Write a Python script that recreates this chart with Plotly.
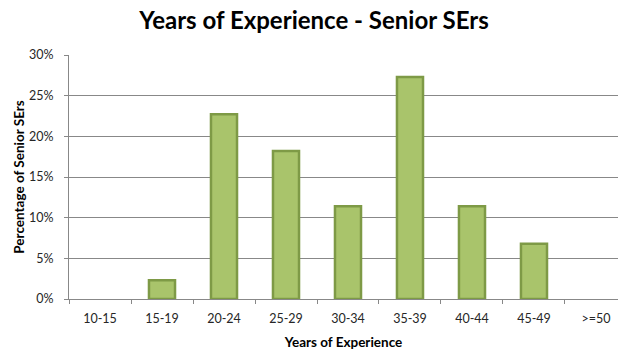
import plotly.graph_objects as go

# Distribution of senior SErs by years of experience
categories = ["10-15", "15-19", "20-24", "25-29", "30-34", "35-39", "40-44", "45-49", ">=50"]
percent_values = [0, 2.3, 22.7, 18.2, 11.4, 27.3, 11.4, 6.8, 0]
y_tick_values = [0, 5, 10, 15, 20, 25, 30]
y_tick_labels = ["0%", "5%", "10%", "15%", "20%", "25%", "30%"]

FONT = "Lato, Carlito, Calibri, sans-serif"
GRID = "#888888"
FILL = "#A9C46B"
EDGE = "#7E9A46"

fig = go.Figure(
    go.Bar(
        x=categories,
        y=percent_values,
        width=0.42,
        marker=dict(
            color=FILL,
            line=dict(color=EDGE, width=[0 if v == 0 else 2.5 for v in percent_values]),
        ),
        hovertemplate="%{x}: %{y}%<extra></extra>",
    )
)

fig.update_layout(
    width=618,
    height=350,
    autosize=False,
    margin=dict(l=69, r=0, t=55, b=51),
    paper_bgcolor="white",
    plot_bgcolor="white",
    font=dict(family=FONT, size=12.5, color="#262626"),
    showlegend=False,
    title=dict(
        text="<b>Years of Experience - Senior SErs</b>",
        font=dict(family=FONT, size=24, color="#000000"),
        x=314 / 618,
        xanchor="center",
        y=1 - 21 / 350,
        yanchor="middle",
    ),
)

fig.update_xaxes(
    type="category",
    range=[-0.5, 8.355],
    showgrid=False,
    showline=True,
    linecolor=GRID,
    linewidth=1,
    ticks="outside",
    tickson="boundaries",
    ticklen=4,
    tickcolor=GRID,
    tickfont=dict(size=12.5, color="#262626"),
    ticklabelstandoff=8,
    title=dict(text="<b>Years of Experience</b>", font=dict(size=13.5, color="#000000"), standoff=13),
)

fig.update_yaxes(
    range=[0, 30],
    tickvals=y_tick_values,
    ticktext=y_tick_labels,
    showgrid=True,
    gridcolor=GRID,
    gridwidth=1,
    zeroline=False,
    showline=True,
    linecolor=GRID,
    linewidth=1,
    ticks="outside",
    ticklen=4,
    tickcolor=GRID,
    tickfont=dict(size=12.5, color="#262626"),
    ticklabelstandoff=8,
    title=dict(text="<b>Percentage of Senior SErs</b>", font=dict(size=13.5, color="#000000"), standoff=1),
)

fig.write_html("out.html")
